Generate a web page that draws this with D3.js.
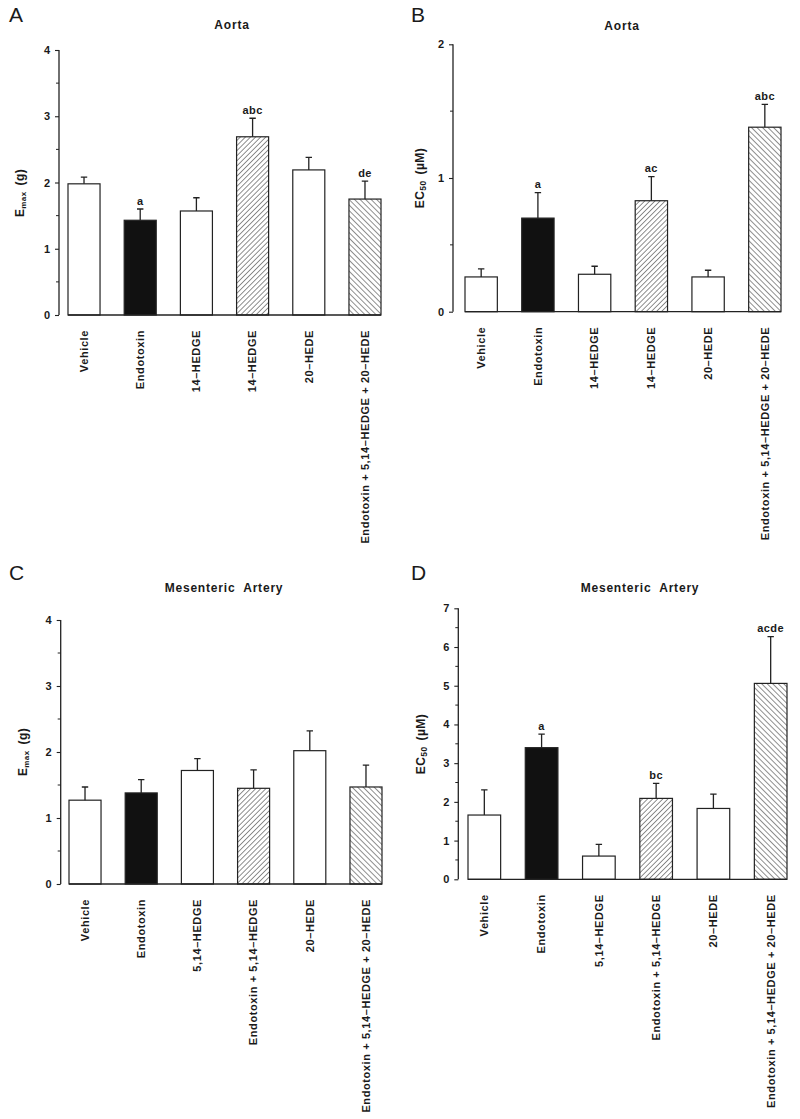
<!DOCTYPE html>
<html>
<head>
<meta charset="utf-8">
<script src="https://cdn.jsdelivr.net/npm/d3@7"></script>
<style>
  html, body { margin: 0; padding: 0; background: #fff; }
  svg { display: block; }
  text { font-family: "Liberation Sans", Arial, Helvetica, sans-serif; fill: #1a1a1a; }
</style>
</head>
<body>
<svg id="chart" width="800" height="1119"></svg>
<script>
// ---------------- DATA ----------------
const categoriesAorta = ["Vehicle", "Endotoxin", "14–HEDGE", "14–HEDGE", "20–HEDE", "Endotoxin + 5,14–HEDGE + 20–HEDE"];
const categoriesMesenteric = ["Vehicle", "Endotoxin", "5,14–HEDGE", "Endotoxin + 5,14–HEDGE", "20–HEDE", "Endotoxin + 5,14–HEDGE + 20–HEDE"];
const barFills = ["open", "solid", "open", "forward", "open", "back"];

const emaxAorta      = [1.98, 1.43, 1.57, 2.69, 2.19, 1.75];
const emaxAortaErr   = [0.10, 0.17, 0.20, 0.28, 0.19, 0.27];
const emaxAortaSig   = ["", "a", "", "abc", "", "de"];

const ec50Aorta      = [0.26, 0.70, 0.28, 0.83, 0.26, 1.38];
const ec50AortaErr   = [0.06, 0.19, 0.06, 0.18, 0.05, 0.17];
const ec50AortaSig   = ["", "a", "", "ac", "", "abc"];

const emaxMesenteric    = [1.27, 1.38, 1.72, 1.45, 2.02, 1.47];
const emaxMesentericErr = [0.20, 0.20, 0.18, 0.28, 0.30, 0.33];
const emaxMesentericSig = ["", "", "", "", "", ""];

const ec50Mesenteric    = [1.66, 3.40, 0.60, 2.09, 1.83, 5.06];
const ec50MesentericErr = [0.65, 0.35, 0.30, 0.39, 0.37, 1.21];
const ec50MesentericSig = ["", "a", "", "bc", "", "acde"];

const emaxTicksAorta = [0, 1, 2, 3, 4];
const ec50TicksAorta = [0, 1, 2];
const emaxTicksMes   = [0, 1, 2, 3, 4];
const ec50TicksMes   = [0, 1, 2, 3, 4, 5, 6, 7];

// ---------------- LAYOUT ----------------
const panels = [
  { letter: "A", title: "Aorta", yLab: "emax", cats: categoriesAorta, vals: emaxAorta, errs: emaxAortaErr, sig: emaxAortaSig,
    ticks: emaxTicksAorta, yMax: 4, axisX: 59, y0: 315, yTop: 50, xr: [68, 381],
    letterPos: [9, 22], titlePos: [232, 29], yLabPos: [24, 193] },
  { letter: "B", title: "Aorta", yLab: "ec50", cats: categoriesAorta, vals: ec50Aorta, errs: ec50AortaErr, sig: ec50AortaSig,
    ticks: ec50TicksAorta, yMax: 2, axisX: 453, y0: 311.7, yTop: 44.3, xr: [465, 781],
    letterPos: [411, 22], titlePos: [622, 30], yLabPos: [424, 178] },
  { letter: "C", title: "Mesenteric  Artery", yLab: "emax", cats: categoriesMesenteric, vals: emaxMesenteric, errs: emaxMesentericErr, sig: emaxMesentericSig,
    ticks: emaxTicksMes, yMax: 4, axisX: 60.7, y0: 884, yTop: 620, xr: [69, 382],
    letterPos: [9, 580], titlePos: [224, 592], yLabPos: [27, 752] },
  { letter: "D", title: "Mesenteric  Artery", yLab: "ec50", cats: categoriesMesenteric, vals: ec50Mesenteric, errs: ec50MesentericErr, sig: ec50MesentericSig,
    ticks: ec50TicksMes, yMax: 7, axisX: 458.3, y0: 879.3, yTop: 608.3, xr: [468, 787],
    letterPos: [411, 580], titlePos: [640, 592], yLabPos: [425, 744] }
];

const svg = d3.select("#chart");
const ink = "#222";

// hatch patterns
const defs = svg.append("defs");
function hatch(id, angle, gap) {
  const p = defs.append("pattern").attr("id", id).attr("patternUnits", "userSpaceOnUse")
    .attr("width", gap).attr("height", gap).attr("patternTransform", `rotate(${angle})`);
  p.append("rect").attr("width", gap).attr("height", gap).attr("fill", "#fff");
  p.append("line").attr("x1", 0).attr("y1", 0).attr("x2", 0).attr("y2", gap)
    .attr("stroke", "#333").attr("stroke-width", 1.1);
}
hatch("fwd", 45, 3.6);
hatch("bck", -45, 3.9);
const fillFor = { open: "#fff", solid: "#111", forward: "url(#fwd)", back: "url(#bck)" };

panels.forEach(p => {
  const g = svg.append("g");
  const x = d3.scaleBand().domain(d3.range(p.cats.length)).range(p.xr).paddingInner(0.43).paddingOuter(0);
  const y = d3.scaleLinear().domain([0, p.yMax]).range([p.y0, p.yTop]);

  // panel letter & title
  g.append("text").attr("x", p.letterPos[0]).attr("y", p.letterPos[1])
    .attr("font-size", 21).text(p.letter);
  g.append("text").attr("x", p.titlePos[0]).attr("y", p.titlePos[1])
    .attr("text-anchor", "middle").attr("font-size", 12).attr("font-weight", "bold")
    .attr("letter-spacing", 0.8).style("white-space", "pre").attr("xml:space", "preserve").text(p.title);

  // y axis (major ticks)
  const yAxis = d3.axisLeft(y).tickValues(p.ticks).tickFormat(d3.format("d")).tickSize(4).tickPadding(5);
  const ya = g.append("g").attr("transform", `translate(${p.axisX},0)`).call(yAxis);
  ya.select(".domain").attr("stroke", ink).attr("stroke-width", 1.3).attr("d", `M0,${p.y0}V${p.yTop}`);
  ya.selectAll(".tick line").attr("stroke", ink).attr("stroke-width", 1.1);
  ya.selectAll(".tick text").attr("font-size", 11).attr("font-weight", "bold").attr("fill", "#1a1a1a")
    .style("font-family", '"Liberation Sans", Arial, sans-serif');
  // minor ticks
  const minor = d3.range(0.5, p.yMax, 1);
  g.selectAll(null).data(minor).join("line")
    .attr("x1", p.axisX - 3).attr("x2", p.axisX)
    .attr("y1", d => y(d)).attr("y2", d => y(d))
    .attr("stroke", ink).attr("stroke-width", 1);

  // y label
  const yl = g.append("text").attr("transform", `translate(${p.yLabPos[0]},${p.yLabPos[1]}) rotate(-90)`)
    .attr("text-anchor", "middle").attr("font-size", 12).attr("font-weight", "bold").attr("letter-spacing", 0.4);
  if (p.yLab === "emax") {
    yl.append("tspan").text("E");
    yl.append("tspan").attr("font-size", 8).attr("dy", 2).text("max");
    yl.append("tspan").attr("dy", -2).attr("dx", 6).text("(g)");
  } else {
    yl.append("tspan").text("EC");
    yl.append("tspan").attr("font-size", 8.5).attr("dy", 2).text("50");
    yl.append("tspan").attr("dy", -2).attr("dx", 6).text("(µM)");
  }

  // bars
  const idx = d3.range(p.cats.length);
  g.selectAll(null).data(idx).join("rect")
    .attr("x", i => x(i)).attr("width", x.bandwidth())
    .attr("y", i => y(p.vals[i])).attr("height", i => y(0) - y(p.vals[i]))
    .attr("fill", i => fillFor[barFills[i]])
    .attr("stroke", ink).attr("stroke-width", 1.2);

  // error bars
  g.selectAll(null).data(idx).join("path")
    .attr("d", i => {
      const cx = x(i) + x.bandwidth() / 2;
      const yt = y(p.vals[i] + p.errs[i]);
      return `M${cx},${y(p.vals[i])}V${yt}M${cx - 3.2},${yt}H${cx + 3.2}`;
    })
    .attr("fill", "none").attr("stroke", ink).attr("stroke-width", 1.3);

  // significance letters
  g.selectAll(null).data(idx.filter(i => p.sig[i])).join("text")
    .attr("x", i => x(i) + x.bandwidth() / 2)
    .attr("y", i => y(p.vals[i] + p.errs[i]) - 4.5)
    .attr("text-anchor", "middle").attr("font-size", 11).attr("font-weight", "bold").attr("letter-spacing", 0.4)
    .text(i => p.sig[i]);

  // x axis line
  g.append("line").attr("x1", p.xr[0]).attr("x2", p.xr[1]).attr("y1", y(0)).attr("y2", y(0))
    .attr("stroke", ink).attr("stroke-width", 1.3);

  // x category labels
  g.selectAll(null).data(idx).join("text")
    .attr("transform", i => `translate(${x(i) + x.bandwidth() / 2},${y(0) + 15}) rotate(-90)`)
    .attr("text-anchor", "end").attr("dy", "0.35em")
    .attr("font-size", 11).attr("font-weight", "bold").attr("letter-spacing", 0.6)
    .text(i => p.cats[i]);
});
</script>
</body>
</html>
